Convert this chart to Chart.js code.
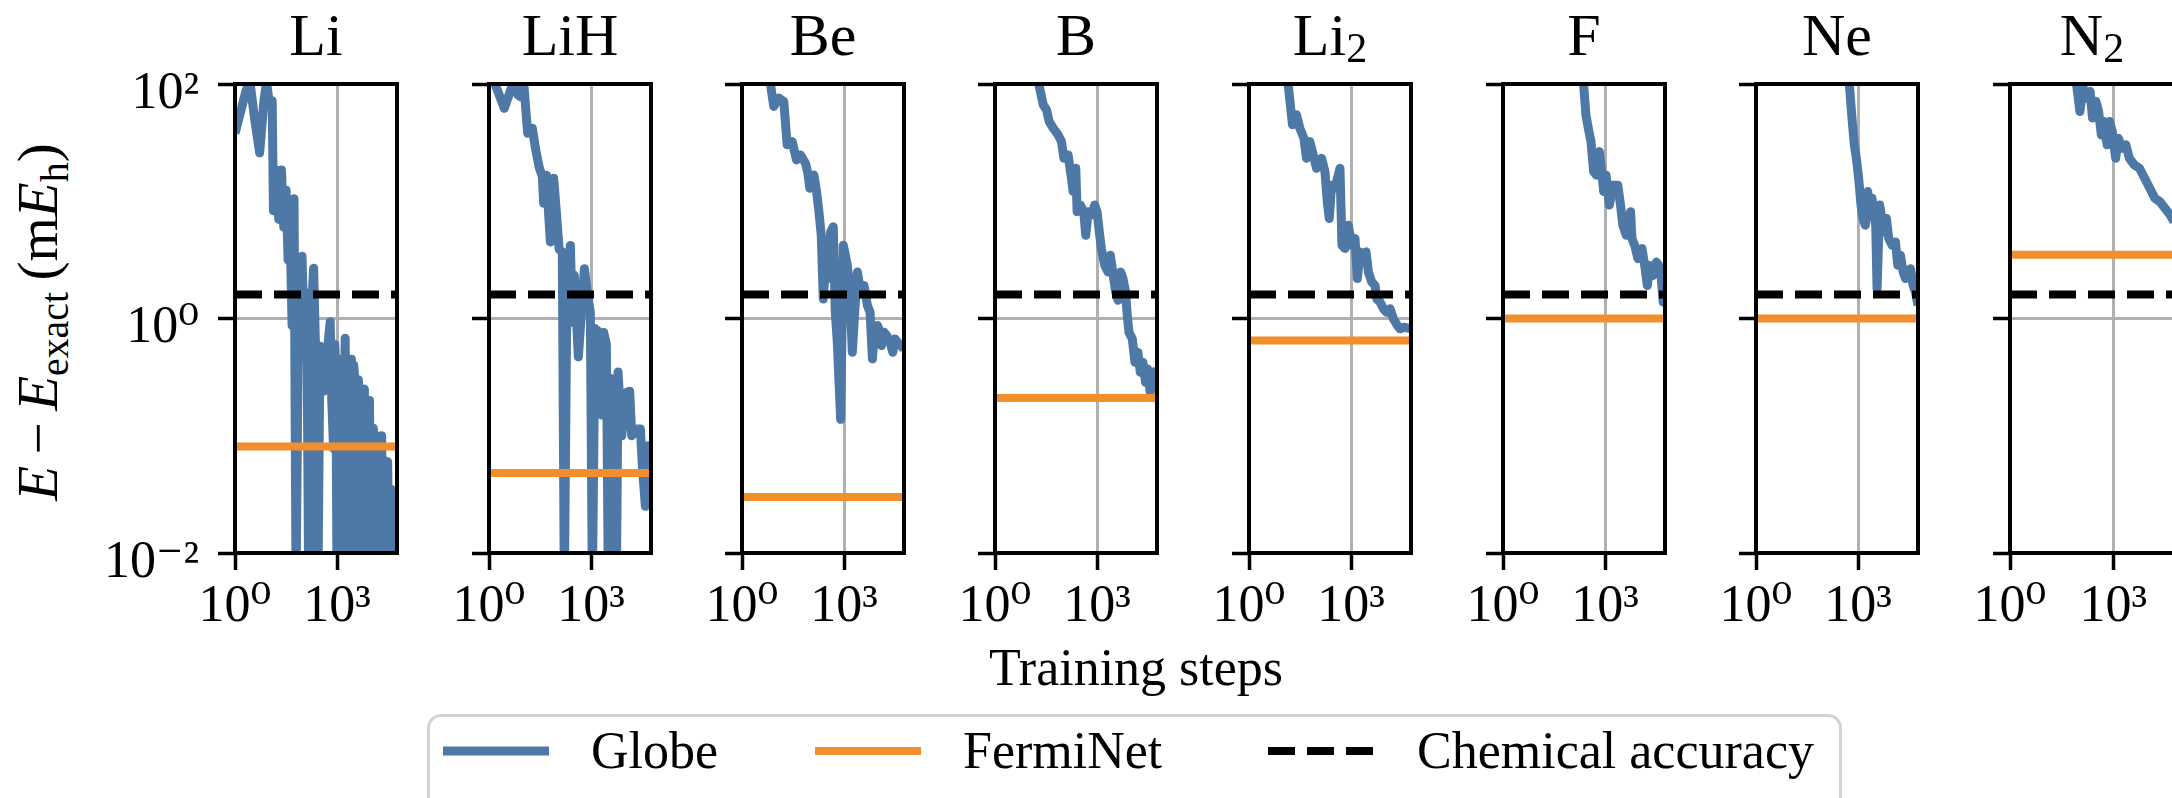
<!DOCTYPE html>
<html>
<head>
<meta charset="utf-8">
<script src="https://cdn.jsdelivr.net/npm/chart.js@4.4.1/dist/chart.umd.min.js"></script>
<style>
  html, body { margin: 0; padding: 0; background: #fff; }
  body { width: 2172px; height: 798px; position: relative; overflow: hidden;
         font-family: 'Liberation Serif', 'DejaVu Serif', serif; color: #000; }
  .panel { position: absolute; top: 0; }
  .title { position: absolute; top: 5px; font-size: 60px; line-height: 60px; white-space: nowrap; transform: translateX(-50%); }
  .title sub { font-size: 0.7em; vertical-align: baseline; position: relative; top: 0.16em; }
  #ylabel { position: absolute; left: 40px; top: 322px; font-size: 57px; line-height: 57px; white-space: nowrap;
            transform: translate(-50%, -50%) rotate(-90deg); }
  #ylabel .sub { font-size: 0.7em; position: relative; top: 0.28em; }
  #ylabel .op { margin: 0 0.2em; }
  #xlabel { position: absolute; left: 1136px; top: 642px; font-size: 52px; line-height: 52px; white-space: nowrap; transform: translateX(-50%); }
  #legendbox { position: absolute; left: 427px; top: 714px; width: 1415px; height: 140px; box-sizing: border-box;
               border: 3.5px solid #d3d3d3; border-radius: 14px; }
  .legtext { position: absolute; top: 725px; font-size: 52px; line-height: 52px; white-space: nowrap; }
  .leghandle { position: absolute; top: 741px; }
</style>
</head>
<body>
<div id="ylabel"><i>E</i><span class="op">−</span><i>E</i><span class="sub">exact</span>&thinsp;(m<i>E</i><span class="sub">h</span>)</div>
<div id="xlabel">Training steps</div>
<div id="legendbox"></div>
<script>
const molecules = ['Li', 'LiH', 'Be', 'B', 'Li₂', 'F', 'Ne', 'N₂'];
const seriesNames = ['Globe', 'FermiNet', 'Chemical accuracy'];
const fermiNet = [0.081, 0.048, 0.030, 0.21, 0.65, 1.0, 1.0, 3.5];
const chemicalAccuracy = 1.6;
const xTicks = [1, 1000];
const yTicks = [0.01, 1, 100];
const tickText = { 0.01: '10⁻²', 1: '10⁰', 100: '10²', 1000: '10³' };
const stepMax = 58000;

// Globe error curves (training step, mEh)
const liSteps = [1, 2.05, 2.7, 3.85, 5.3, 7.1, 8.5, 10.3, 12.4, 13.5, 16.2, 19.4, 23.2, 27.2, 31.8, 36.4, 42.6, 47.7, 54.5, 62.4, 74.6, 93.5, 112, 128, 147, 168, 205, 240, 275, 315, 403, 504, 631, 700, 790, 860, 925, 1000, 1107, 1200, 1385, 1550, 1734, 1900, 2075, 2250, 2428, 2650, 2843, 3100, 3403, 3800, 4258, 4700, 5333, 5800, 6383, 7000, 7983, 9000, 10000, 11700, 13000, 14650, 16500, 18330, 20500, 22950, 25700, 27500, 30760, 34000, 38480, 42000, 45080, 51000, 58000];
const liGlobe = [38, 85, 108, 48.5, 25.9, 72, 104, 67, 72, 8.3, 18.5, 7.0, 18.5, 6.0, 12.4, 3.15, 4.3, 0.87, 10.5, 0.005, 1.94, 3.4, 0.46, 1.65, 0.005, 0.87, 2.68, 0.39, 0.005, 0.58, 0.24, 0.49, 0.94, 0.2, 0.078, 0.6, 0.39, 0.005, 0.45, 0.005, 0.24, 0.005, 0.68, 0.035, 0.4, 0.005, 0.26, 0.45, 0.005, 0.4, 0.28, 0.005, 0.3, 0.0156, 0.148, 0.005, 0.25, 0.005, 0.107, 0.2, 0.005, 0.116, 0.005, 0.1, 0.005, 0.061, 0.1, 0.005, 0.061, 0.005, 0.06, 0.005, 0.035, 0.005, 0.03, 0.005, 0.025];

const lihSteps = [1, 2.82, 5.3, 7.0, 8.4, 10.5, 13.7, 18.8, 23.6, 29.6, 37, 40.5, 48.5, 63.7, 79.8, 95.6, 115, 143, 164, 197, 247, 282, 323, 424, 531, 637, 798, 955, 1094, 1312, 1798, 2060, 2360, 2825, 3235, 3705, 4240, 4855, 5560, 6225, 7980, 10940, 13710, 15700, 22030, 28250, 32360, 39630, 46420, 58000];
const lihGlobe = [137, 62, 105, 81, 78, 102, 38, 42, 27.5, 19.7, 16.2, 9.6, 16.7, 4.5, 15.7, 8.1, 3.9, 3.7, 0.005, 2.2, 4.2, 0.93, 2.33, 0.47, 1.21, 2.66, 1.57, 1.13, 0.005, 0.82, 0.76, 0.15, 0.76, 0.6, 0.005, 0.31, 0.005, 0.22, 0.005, 0.35, 0.1, 0.234, 0.24, 0.1, 0.114, 0.114, 0.055, 0.025, 0.082, 0.052];

const beSteps = [1, 5.46, 6.85, 8.6, 12.1, 16.9, 21.3, 29.9, 40.1, 52.6, 73.8, 86.5, 99, 130, 156, 183, 214, 245, 287, 337, 404, 483, 554, 634, 796, 953, 1251, 1500, 1757, 2060, 2467, 3096, 3882, 4867, 5836, 6834, 8010, 9600, 11510, 12600, 15100, 18100, 22700, 27200, 31200, 37300, 46800, 58000];
const beGlobe = [1550, 167, 100, 64.4, 75.9, 71.1, 30.3, 32.3, 22.5, 24.8, 21.1, 17.3, 12.9, 16.7, 12.1, 8.13, 5.13, 1.47, 2.84, 2.19, 5.48, 6.05, 1.13, 0.627, 0.138, 4.22, 2.84, 1.57, 0.515, 1.13, 2.49, 1.68, 1.91, 1.29, 1.13, 0.452, 0.817, 0.871, 0.763, 0.588, 0.763, 0.715, 0.627, 0.515, 0.67, 0.627, 0.588, 0.55];

const bSteps = [1, 18.7, 26.1, 32.7, 39.2, 51.4, 72, 90.2, 106, 141, 177, 198, 237, 260, 325, 407, 466, 546, 684, 857, 1002, 1200, 1343, 1682, 2108, 2466, 3090, 3535, 4140, 4955, 5797, 6950, 7600, 8690, 10900, 13040, 15960, 18700, 22400, 26800, 30700, 36700, 44000, 58000];
const bGlobe = [3000, 105, 66.6, 60.3, 47.9, 42, 36.8, 32.3, 23.3, 24.8, 15.7, 12.1, 19.1, 8.13, 9.27, 8.13, 5.13, 8.13, 7.62, 9.27, 8.13, 5.13, 3.95, 2.84, 2.49, 3.46, 2.19, 1.68, 1.43, 2.49, 2.19, 1.68, 1.13, 0.763, 0.67, 0.423, 0.515, 0.348, 0.423, 0.285, 0.371, 0.234, 0.325, 0.371];

const li2Steps = [1, 14.1, 19, 24.9, 31.2, 41, 49.1, 61.6, 77.3, 96.9, 136, 171, 200, 229, 268, 337, 473, 542, 664, 832, 1044, 1309, 1535, 1840, 2306, 2762, 3238, 4060, 5090, 5700, 7150, 8970, 11250, 14100, 17700, 23200, 27800, 36500, 58000];
const li2Globe = [3000, 100, 44.9, 54.7, 42, 34.5, 23.3, 32.3, 24.8, 19.1, 23.3, 17.9, 9.91, 7.13, 13.7, 12.9, 19.1, 4.22, 3.95, 6.25, 4.22, 4.81, 2.19, 3.7, 3.46, 3.7, 2.49, 2.05, 1.91, 1.47, 1.38, 1.21, 1.13, 1.21, 0.99, 0.871, 0.817, 0.843, 0.817];

const fSteps = [1, 234, 274, 322, 386, 463, 555, 681, 798, 915, 1073, 1346, 1690, 2377, 2851, 3342, 4197, 5640, 6180, 7410, 9290, 12200, 14650, 17570, 20600, 25900, 32450, 38000, 43600, 51100, 58000];
const fGlobe = [11000, 100, 54.7, 42, 32.3, 17.9, 16.7, 26.5, 17.9, 12.1, 16.7, 9.27, 13.7, 13.7, 9.27, 6.25, 5.13, 8.13, 4.81, 4.22, 3.24, 3.95, 2.84, 1.91, 2.84, 2.33, 3.03, 2.84, 2.49, 1.38, 2.19];

const neSteps = [1, 554, 664, 778, 891, 1044, 1223, 1402, 1641, 1923, 2203, 2582, 3027, 3313, 3625, 4347, 4977, 5700, 6836, 8010, 10050, 12600, 14760, 17700, 21200, 24830, 31190, 34900, 41800, 49000, 58000];
const neGlobe = [21600, 100, 51.2, 30.3, 23.3, 15.7, 9.27, 7.13, 6.25, 12.1, 8.13, 10.6, 7.13, 6.25, 1.79, 9.27, 7.13, 5.48, 7.13, 4.81, 4.22, 4.5, 2.84, 3.46, 2.49, 2.19, 2.33, 2.66, 1.91, 1.68, 1.29];

const n2Steps = [1, 85.3, 107, 134, 169, 212, 249, 313, 375, 450, 528, 663, 778, 934, 1173, 1408, 1770, 2324, 2918, 4110, 5780, 8150, 11470, 16140, 22710, 31990, 45000, 58000];
const n2Globe = [5790, 100, 58.3, 92.4, 75.9, 86.5, 51.2, 71.1, 58.3, 36.8, 47.9, 30.3, 47.9, 39.4, 23.3, 34.5, 28.3, 30.3, 23.3, 20.4, 19.1, 15.7, 12.9, 10.6, 9.91, 8.69, 7.62, 6.68];

const globeRuns = [
  [liSteps, liGlobe], [lihSteps, lihGlobe], [beSteps, beGlobe], [bSteps, bGlobe],
  [li2Steps, li2Globe], [fSteps, fGlobe], [neSteps, neGlobe], [n2Steps, n2Globe]
];

const colors = ['#4e79a7', '#f28e2b', '#000000'];
const lineWidths = [9, 8, 8];
const panelLeft = [235, 489, 742, 995, 1249, 1503, 1756, 2010];
const panelWidth = [162, 162, 162, 162, 162, 162, 162, 164];

Chart.defaults.font.family = "'Liberation Serif', 'DejaVu Serif', serif";
Chart.defaults.color = '#000';

// black box around each axes, drawn over the lines like matplotlib spines
const boxPlugin = {
  id: 'axesBox',
  afterDatasetsDraw(chart) {
    const a = chart.chartArea;
    const ctx = chart.ctx;
    ctx.save();
    ctx.strokeStyle = '#000';
    ctx.lineWidth = 4;
    ctx.strokeRect(a.left, a.top, a.right - a.left, a.bottom - a.top);
    ctx.restore();
  }
};

const gridOpts = { color: '#b0b0b0', lineWidth: 3, tickColor: '#000', tickWidth: 3.5, tickLength: 17 };

molecules.forEach((name, i) => {
  const side = i === 0 ? 235 : 50;
  const w = panelWidth[i];
  const canvas = document.createElement('canvas');
  canvas.width = w + 2 * side;
  canvas.height = 640;
  canvas.className = 'panel';
  canvas.style.left = (panelLeft[i] - side) + 'px';
  document.body.appendChild(canvas);

  const title = document.createElement('div');
  title.className = 'title';
  title.style.left = (panelLeft[i] + w / 2) + 'px';
  title.innerHTML = name.replace('₂', '<sub>2</sub>');
  document.body.appendChild(title);

  const [steps, vals] = globeRuns[i];
  const flat = v => [{ x: 1, y: v }, { x: stepMax, y: v }];

  new Chart(canvas, {
    type: 'line',
    data: {
      datasets: [
        { label: seriesNames[0], data: steps.map((s, k) => ({ x: s, y: vals[k] })),
          borderColor: colors[0], borderWidth: lineWidths[0], order: 3, clip: 0 },
        { label: seriesNames[1], data: flat(fermiNet[i]),
          borderColor: colors[1], borderWidth: lineWidths[1], order: 2, clip: 0 },
        { label: seriesNames[2], data: flat(chemicalAccuracy),
          borderColor: colors[2], borderWidth: lineWidths[2], borderDash: [27, 12], order: 1, clip: 0 }
      ]
    },
    options: {
      responsive: false,
      animation: false,
      devicePixelRatio: 1,
      layout: { padding: { top: 84, right: side, bottom: 0, left: 0 } },
      elements: {
        point: { radius: 0 },
        line: { tension: 0, borderJoinStyle: 'round', borderCapStyle: 'butt' }
      },
      plugins: { legend: { display: false }, tooltip: { enabled: false } },
      scales: {
        x: {
          type: 'logarithmic', min: 1, max: stepMax,
          afterBuildTicks: s => { s.ticks = xTicks.map(v => ({ value: v })); },
          afterFit: s => { s.height = 87; s.paddingLeft = 0; s.paddingRight = 0; },
          grid: gridOpts,
          border: { display: false },
          ticks: { callback: v => tickText[v], font: { size: 52 }, padding: 6,
                   maxRotation: 0, minRotation: 0, autoSkip: false }
        },
        y: {
          type: 'logarithmic', min: 0.01, max: 100,
          afterBuildTicks: s => { s.ticks = yTicks.map(v => ({ value: v })); },
          afterFit: s => { s.width = side; s.paddingTop = 0; s.paddingBottom = 0; },
          grid: gridOpts,
          border: { display: false },
          ticks: { display: i === 0, callback: v => tickText[v], font: { size: 52 },
                   padding: 19, labelOffset: 10 }
        }
      }
    },
    plugins: [boxPlugin]
  });
});

// shared legend under the panels
const handleX = [443, 815, 1268];
const textX = [591, 963, 1417];
seriesNames.forEach((label, k) => {
  const svg = document.createElementNS('http://www.w3.org/2000/svg', 'svg');
  svg.setAttribute('class', 'leghandle');
  svg.setAttribute('width', 106);
  svg.setAttribute('height', 20);
  svg.style.left = handleX[k] + 'px';
  const ln = document.createElementNS('http://www.w3.org/2000/svg', 'line');
  ln.setAttribute('x1', 0); ln.setAttribute('x2', 106);
  ln.setAttribute('y1', 10); ln.setAttribute('y2', 10);
  ln.setAttribute('stroke', colors[k]);
  ln.setAttribute('stroke-width', lineWidths[k]);
  if (k === 2) ln.setAttribute('stroke-dasharray', '27 12');
  svg.appendChild(ln);
  document.body.appendChild(svg);

  const t = document.createElement('div');
  t.className = 'legtext';
  t.style.left = textX[k] + 'px';
  t.textContent = label;
  document.body.appendChild(t);
});
</script>
</body>
</html>
